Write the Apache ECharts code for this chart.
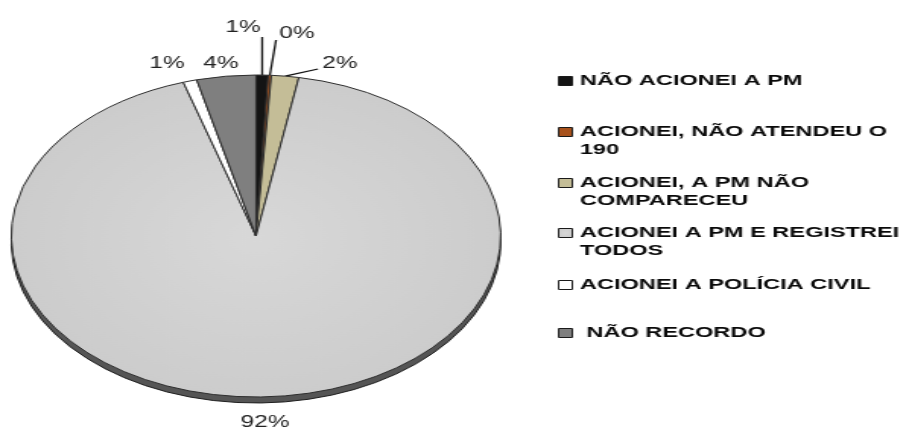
<!DOCTYPE html>
<html>
<head>
<meta charset="utf-8">
<script src="https://cdn.jsdelivr.net/npm/echarts@6/dist/echarts.min.js"></script>
<style>
  html, body { margin: 0; padding: 0; background: #fff; }
  /* the reference is stretched horizontally (pie and text alike) */
  #chart { width: 594px; height: 430px; transform: scaleX(1.52); transform-origin: 0 0; }
</style>
</head>
<body>
<div id="chart"></div>
<script>
const categories = [
  'NÃO ACIONEI A PM',
  'ACIONEI, NÃO ATENDEU O 190',
  'ACIONEI, A PM NÃO COMPARECEU',
  'ACIONEI A PM E REGISTREI TODOS',
  'ACIONEI A POLÍCIA CIVIL',
  'NÃO RECORDO',
];
const shares = [0.8, 0.2, 1.8, 92.4, 0.9, 3.9];
const legendLabels = [
  'NÃO ACIONEI A PM',
  'ACIONEI, NÃO ATENDEU O\n190',
  'ACIONEI, A PM NÃO\nCOMPARECEU',
  'ACIONEI A PM E REGISTREI\nTODOS',
  'ACIONEI A POLÍCIA CIVIL',
  ' NÃO RECORDO',
];
const colors = ['#141414', '#a8521c', '#c4bd97', '#d2d2d2', '#ffffff', '#7f7f7f'];

const SX = 1.52;
const CX = 256 / SX;
const CY = 236;
const R = 161;
// label centres and leader-line ends, in picture pixels
const labelPos = [[243, 28], [297, 34], [340, 64], [265, 423], [167, 64], [221, 64]];
const lineEnds = [[262, 37], [276, 40], [318, 69], null, null, null];
const legendY = [81, 132, 183, 233, 285, 333];

const chart = echarts.init(document.getElementById('chart'));

const option = {
  backgroundColor: '#fff',
  animation: false,
  legend: categories.map((name, i) => ({
    data: [name],
    orient: 'vertical',
    left: 367,
    top: legendY[i] - 27,
    padding: 0,
    icon: 'rect',
    itemWidth: 9,
    itemHeight: 9,
    itemStyle: { borderColor: '#1a1a1a', borderWidth: 1 },
    formatter: () => {
      const lines = legendLabels[i].split('\n');
      return '\n' + lines[0] + '\n' + (lines[1] || '');
    },
    textStyle: {
      fontFamily: 'Liberation Sans',
      fontWeight: 'bold',
      fontSize: 15.5,
      lineHeight: 18,
      color: '#0a0a0a',
    },
  })),
  series: [
    {
      type: 'pie',
      name: 'face',
      z: 3,
      center: [CX, CY],
      radius: R,
      startAngle: 90,
      clockwise: true,
      avoidLabelOverlap: false,
      emphasis: { scale: false },
      data: categories.map((name, i) => ({
        name,
        value: shares[i],
        itemStyle: {
          color: i === 3
            ? new echarts.graphic.RadialGradient(0.5, 0.5, 0.6, [
              { offset: 0, color: '#d8d8d8' },
              { offset: 1, color: '#cacaca' },
            ])
            : colors[i],
        },
        labelLine: { show: !!lineEnds[i] },
      })),
      itemStyle: { borderColor: '#2e2e2e', borderWidth: 1 },
      label: {
        position: 'outside',
        formatter: (p) => Math.round(p.percent) + '%',
        fontFamily: 'Liberation Sans',
        fontSize: 16,
        color: '#222',
      },
      labelLine: { lineStyle: { color: '#111', width: 1.3 } },
      labelLayout: (p) => {
        const i = p.dataIndex;
        const res = {
          x: labelPos[i][0] / SX,
          y: labelPos[i][1],
          align: 'center',
          verticalAlign: 'middle',
        };
        if (lineEnds[i] && p.labelLinePoints) {
          const a = p.labelLinePoints[0];
          const e = [i === 0 ? a[0] : lineEnds[i][0] / SX, lineEnds[i][1]];
          res.labelLinePoints = [a, e, e];
        }
        return res;
      },
    },
    {
      // dark rim under the tilted pie
      type: 'pie',
      name: 'rim',
      z: 1,
      silent: true,
      center: [CX, CY + 6],
      radius: R,
      startAngle: 90,
      data: categories.map((name, i) => ({ name, value: shares[i] })),
      itemStyle: { color: '#555555', borderColor: '#1e1e1e', borderWidth: 1 },
      label: { show: false },
      labelLine: { show: false },
    },
  ],
};

chart.setOption(option);
</script>
</body>
</html>
